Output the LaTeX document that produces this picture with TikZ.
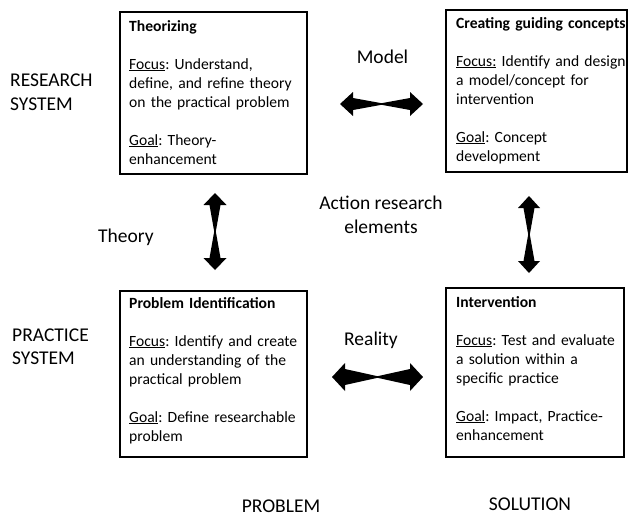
\documentclass[tikz,border=0pt]{standalone}
\usepackage{fontspec}
\setmainfont{Carlito}
\usetikzlibrary{calc}
\frenchspacing
\tikzset{
  frame/.style={draw=black, line width=1.3pt, inner sep=0pt, outer sep=0pt, anchor=north west},
  boxtext/.style={anchor=base west, inner sep=0pt, align=left, text width=#1,
    font=\fontsize{15.6}{19}\selectfont},
  lbl/.style={inner sep=0pt, font=\fontsize{19.5}{23.5}\selectfont},
}
\newcommand{\hbow}[5]{% left, right, head length, head half-height, shaft half-width at head
  \fill let \p1=(#1), \p2=(#2) in
    (\x1,\y1) -- (\x1+#3pt,\y1+#4pt) -- (\x1+#3pt,\y1+#5pt) -- ({(\x1+\x2)/2},\y1+0.8pt)
    -- (\x2-#3pt,\y1+#5pt) -- (\x2-#3pt,\y1+#4pt) -- (\x2,\y1)
    -- (\x2-#3pt,\y1-#4pt) -- (\x2-#3pt,\y1-#5pt) -- ({(\x1+\x2)/2},\y1-0.8pt)
    -- (\x1+#3pt,\y1-#5pt) -- (\x1+#3pt,\y1-#4pt) -- cycle;}
\newcommand{\vbow}[5]{% top, bottom, head length, head half-width, shaft half-width at head
  \fill let \p1=(#1), \p2=(#2) in
    (\x1,\y1) -- (\x1+#4pt,\y1-#3pt) -- (\x1+#5pt,\y1-#3pt) -- (\x1+0.8pt,{(\y1+\y2)/2})
    -- (\x1+#5pt,\y2+#3pt) -- (\x1+#4pt,\y2+#3pt) -- (\x1,\y2)
    -- (\x1-#4pt,\y2+#3pt) -- (\x1-#5pt,\y2+#3pt) -- (\x1-0.8pt,{(\y1+\y2)/2})
    -- (\x1-#5pt,\y1-#3pt) -- (\x1-#4pt,\y1-#3pt) -- cycle;}
\begin{document}
\begin{tikzpicture}[x=1pt,y=-1pt]
\useasboundingbox[fill=white] (0,0) rectangle (628,517);

% boxes
\node[frame, minimum width=187pt, minimum height=162pt] (theo) at (120,12) {};
\node[frame, minimum width=181pt, minimum height=162pt] (creat) at (446,10) {};
\node[frame, minimum width=187pt, minimum height=166pt] (prob) at (120,291) {};
\node[frame, minimum width=178pt, minimum height=169pt] (interv) at (446,288) {};

\node[boxtext=175pt] (theot) at (129,31) {\textbf{Theorizing}\\[19pt]
  \underline{Focus}: Understand,\\ define, and refine theory\\ on the practical problem\\[19pt]
  \underline{Goal}: Theory-\\ enhancement};
\node[boxtext=175pt] (creatt) at (456,28) {\textbf{Creating guiding concepts}\\[19pt]
  \underline{Focus:} Identify and design\\ a model/concept for\\ intervention\\[19pt]
  \underline{Goal}: Concept\\ development};
\node[boxtext=175pt] (probt) at (129,308) {\textbf{Problem Identification}\\[19pt]
  \underline{Focus}: Identify and create\\ an understanding of the\\ practical problem\\[19pt]
  \underline{Goal}: Define researchable\\ problem};
\node[boxtext=175pt] (intervt) at (456,307) {\textbf{Intervention}\\[19pt]
  \underline{Focus}: Test and evaluate\\ a solution within a\\ specific practice\\[19pt]
  \underline{Goal}: Impact, Practice-\\ enhancement};

% arrows
\coordinate (mL) at (340,104); \coordinate (mR) at (423,104);
\coordinate (rL) at (332,377); \coordinate (rR) at (423,377);
\coordinate (tT) at (215,193); \coordinate (tB) at (215,270);
\coordinate (cT) at (529,196); \coordinate (cB) at (529,273);
\hbow{mL}{mR}{13}{12}{6}
\hbow{rL}{rR}{13}{14}{8}
\vbow{tT}{tB}{12}{11.5}{5.5}
\vbow{cT}{cB}{12}{11}{5.5}

% labels
\node[lbl, anchor=base] (model) at (382.5,63) {Model};
\node[lbl, anchor=base west, align=left] (rs) at (10,110) {RESEARCH\\SYSTEM};
\node[lbl, anchor=base west] (theory) at (98,242) {Theory};
\node[lbl, anchor=base, align=center] (are) at (381,233) {Action research\\elements};
\node[lbl, anchor=base] (reality) at (371,345) {Reality};
\node[lbl, anchor=base west, align=left] (ps) at (12,364.5) {PRACTICE\\SYSTEM};
\node[lbl, anchor=base] (problem) at (281,512) {PROBLEM};
\node[lbl, anchor=base] (solution) at (530,510) {SOLUTION};
\end{tikzpicture}
\end{document}
